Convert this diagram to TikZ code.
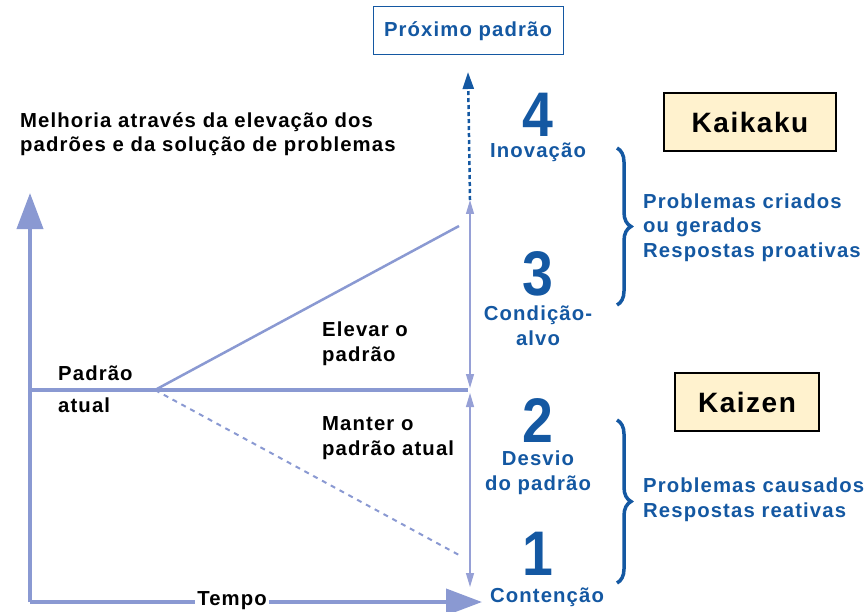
\documentclass[tikz,border=0pt]{standalone}
\usepackage{fontspec}
\setmainfont{Liberation Sans}[LetterSpace=5.5]
\newfontfamily\numfont{Liberation Sans}
\usepackage{graphicx}
\usetikzlibrary{arrows.meta, positioning, decorations.pathreplacing}
\definecolor{axisblue}{RGB}{138,153,210}
\definecolor{thinblue}{RGB}{150,160,214}
\definecolor{textblue}{RGB}{20,88,162}
\definecolor{boxyellow}{RGB}{255,242,206}

\newcommand{\bignum}[1]{\scalebox{0.88}[1]{\numfont\fontsize{63}{63}\selectfont\bfseries #1}}

\begin{document}
\begin{tikzpicture}[x=1pt,y=-1pt,font=\bfseries\fontsize{20.3}{24.5}\selectfont]
        \tikzstyle{axis}=[line width=4pt,draw=axisblue,-{Triangle[width=26pt,length=36pt]}]
        \tikzstyle{span}=[line width=1.2pt,draw=thinblue,{Triangle[width=8pt,length=14pt]}-{Triangle[width=8pt,length=14pt]}]
        \tikzstyle{blue label}=[text=textblue,align=center,anchor=base,inner sep=0pt]
        \tikzstyle{black label}=[text=black,align=left,anchor=base west,inner sep=0pt]
        \tikzstyle{stage box}=[draw=black,line width=1.2pt,fill=boxyellow,minimum width=#1,minimum height=58pt,font=\bfseries\fontsize{28}{28}\selectfont]
        \tikzstyle{curly}=[decorate,decoration={brace,amplitude=14pt},line width=3.5pt,draw=textblue]

        \useasboundingbox (0,0) rectangle (866,612);

        % axes
        \coordinate (O)     at (30,602);
        \coordinate (ytop)  at (30,193);
        \coordinate (xend)  at (482,602);
        \draw[axis] (O) -- (ytop);
        \draw[axis] (O) -- (xend);
        \node[fill=white,inner sep=2pt] (tempo) at (232,601) {Tempo};

        % standard and its two branches
        \coordinate (stdL)   at (30,390);
        \coordinate (branch) at (155,390);
        \coordinate (stdR)   at (468,390);
        \coordinate (riseR)  at (459,226);
        \coordinate (fallR)  at (459,555);
        \draw[line width=4pt,axisblue] (stdL) -- (stdR);
        \draw[line width=2.5pt,axisblue] (branch) -- (riseR);
        \draw[line width=2pt,axisblue,dash pattern=on 5pt off 5pt] (branch) -- (fallR);

        % ranges on the right
        \coordinate (up1) at (470,200);
        \coordinate (up2) at (470,388);
        \coordinate (lo1) at (470,393);
        \coordinate (lo2) at (470,587);
        \draw[span] (up1) -- (up2);
        \draw[span] (lo1) -- (lo2);

        \node[draw=textblue,line width=1pt,text=textblue,minimum width=190pt,minimum height=48pt] (next) at (468,31) {Próximo padrão};
        \draw[line width=2.5pt,textblue,dash pattern=on 4pt off 3pt,-{Triangle[width=11pt,length=17pt]}] (up1) -- (next.south |- 0,72);

        % texts
        \node[black label] (title) at (20,152) {Melhoria através da elevação dos\\padrões e da solução de problemas};
        \node[black label] (padrao) at (58,380) {Padrão};
        \node[black label] (atual) at (58,412) {atual};
        \node[black label] (elevar) at (322,361) {Elevar o\\padrão};
        \node[black label] (manter) at (322,455) {Manter o\\padrão atual};

        % the four levels
        \node[blue label] (n4) at (538,137) {\bignum{4}};
        \node[blue label] (l4) at (538,158) {Inovação};
        \node[blue label] (n3) at (538,295) {\bignum{3}};
        \node[blue label] (l3) at (538,345) {Condição-\\alvo};
        \node[blue label] (n2) at (538,442) {\bignum{2}};
        \node[blue label] (l2) at (538,490) {Desvio\\do padrão};
        \node[blue label] (n1) at (538,575) {\bignum{1}};
        \node[blue label] (l1) at (547,602) {Contenção};

        % braces and their texts
        \coordinate (bu1) at (617,148);
        \coordinate (bu2) at (617,305);
        \coordinate (bl1) at (617,420);
        \coordinate (bl2) at (617,583);
        \draw[curly] (bu1) -- (bu2);
        \draw[curly] (bl1) -- (bl2);
        \node[blue label,anchor=base west,align=left] (kaikakutxt) at (643,257) {Problemas criados\\ou gerados\\Respostas proativas};
        \node[blue label,anchor=base west,align=left] (kaizentxt) at (643,517) {Problemas causados\\Respostas reativas};

        \node[stage box=172pt] (kaikaku) at (750,122) {Kaikaku};
        \node[stage box=144pt] (kaizen) at (747,402) {Kaizen};
\end{tikzpicture}
\end{document}
